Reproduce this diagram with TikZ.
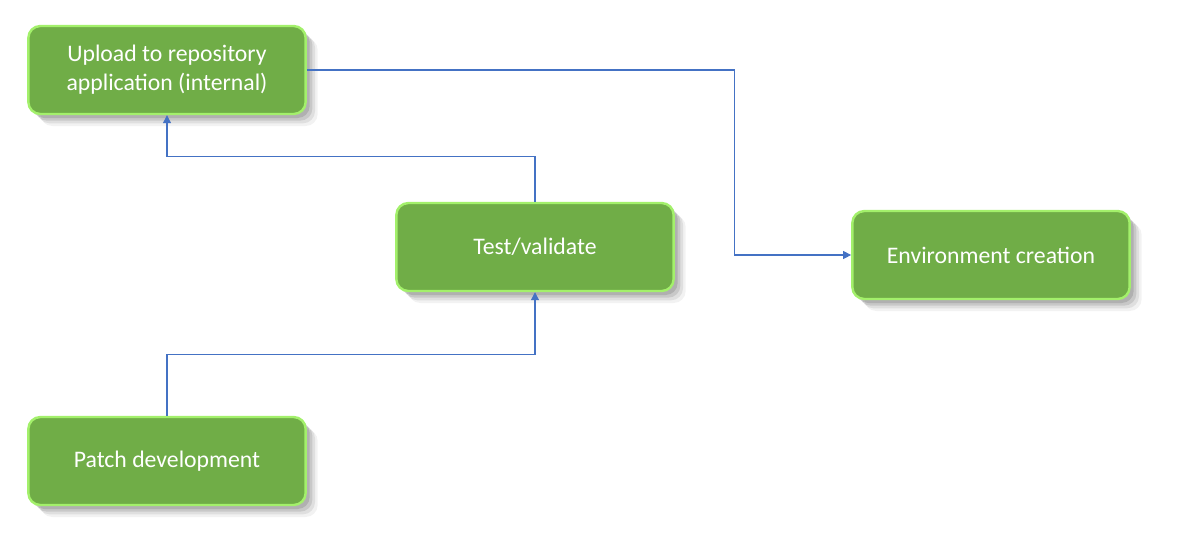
\documentclass[tikz,border=0pt]{standalone}
\usepackage{fontspec}
\setmainfont{Carlito}
\usepackage{xcolor}
\usetikzlibrary{positioning,arrows.meta,shadows}

\definecolor{boxgreen}{HTML}{70AD47}
\definecolor{glowgreen}{HTML}{A3F06B}
\definecolor{linkblue}{HTML}{4472C4}

\tikzset{
  stagebox/.style={draw=glowgreen, line width=1.8pt, fill=boxgreen, rounded corners=9pt,
    minimum width=208pt, minimum height=66pt, align=center, text=white,
    font=\fontsize{17.8}{21.8}\selectfont,
    drop shadow={shadow xshift=3pt, shadow yshift=-3pt, opacity=0.12, fill=black},
    drop shadow={shadow xshift=5pt, shadow yshift=-5pt, opacity=0.10, fill=black},
    drop shadow={shadow xshift=7pt, shadow yshift=-7pt, opacity=0.08, fill=black},
    drop shadow={shadow xshift=9pt, shadow yshift=-9pt, opacity=0.05, fill=black}},
  link/.style={draw=linkblue, line width=0.8pt, -{Triangle[length=6pt,width=6pt]}}
}

\begin{document}
\begin{tikzpicture}[x=0.75pt, y=-0.75pt]
\useasboundingbox (0,0) rectangle (1189,547);

% Nodes
\node[stagebox] (upload) at (167,70) {Upload to repository\\application (internal)};
\node[stagebox] (test) at (535,247) {Test/validate};
\node[stagebox] (env) at (991,255) {Environment creation};
\node[stagebox] (patch) at (167,461) {Patch development};

% Connectors
\draw[link] (patch.north) -- ++(0,-61) -| (test.south);
\draw[link] (test.north) -- ++(0,-45) -| (upload.south);
\draw[link] (upload.east) -- ++(428,0) |- (env.west);

\end{tikzpicture}
\end{document}
